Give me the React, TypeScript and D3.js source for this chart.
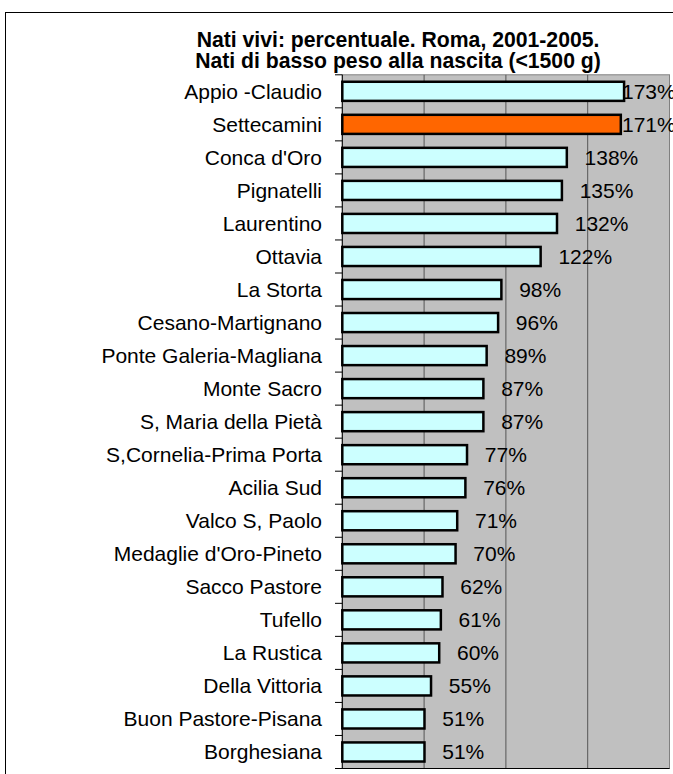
import React from "react";
import * as d3 from "d3";

const categories = [
  "Appio -Claudio",
  "Settecamini",
  "Conca d'Oro",
  "Pignatelli",
  "Laurentino",
  "Ottavia",
  "La Storta",
  "Cesano-Martignano",
  "Ponte Galeria-Magliana",
  "Monte Sacro",
  "S, Maria della Pietà",
  "S,Cornelia-Prima Porta",
  "Acilia Sud",
  "Valco S, Paolo",
  "Medaglie d'Oro-Pineto",
  "Sacco Pastore",
  "Tufello",
  "La Rustica",
  "Della Vittoria",
  "Buon Pastore-Pisana",
  "Borghesiana",
];

const values = [173, 171, 138, 135, 132, 122, 98, 96, 89, 87, 87, 77, 76, 71, 70, 62, 61, 60, 55, 51, 51];

const highlighted = ["Settecamini"];

const gridTicks = [50, 100, 150];

const titleLines = [
  "Nati vivi: percentuale. Roma, 2001-2005.",
  "Nati di basso peso alla nascita (<1500 g)",
];

const W = 673;
const H = 774;
const plotLeft = 342.3;
const plotRight = 669.5;
const plotTop = 74.8;
const plotBottom = 768.5;
const FONT = "Arial, 'Liberation Sans', sans-serif";

export default function App() {
  const x = d3.scaleLinear().domain([0, 200]).range([plotLeft, plotRight]);
  const y = d3
    .scaleBand<string>()
    .domain(categories)
    .range([plotTop, plotBottom])
    .paddingInner(0.346)
    .paddingOuter(0.173);
  const step = y.step();
  const bw = y.bandwidth();
  const sw = 2.5;

  return (
    <svg
      width={W}
      height={H}
      style={{ position: "absolute", left: 0, top: 0, background: "#fff" }}
    >
      <rect x={5.5} y={12.5} width={720} height={800} fill="#fff" stroke="#000" strokeWidth={1} />
      {titleLines.map((t, i) => (
        <text
          key={i}
          x={398}
          y={46.5 + i * 21.5}
          textAnchor="middle"
          fontFamily={FONT}
          fontWeight="bold"
          fontSize={21.2}
          fill="#000"
        >
          {t}
        </text>
      ))}
      <rect
        x={plotLeft}
        y={plotTop}
        width={plotRight - plotLeft}
        height={plotBottom - plotTop}
        fill="#c0c0c0"
        stroke="#808080"
        strokeWidth={1}
      />
      {gridTicks.map((t) => (
        <line key={t} x1={x(t)} x2={x(t)} y1={plotTop} y2={plotBottom} stroke="#555" strokeWidth={1} />
      ))}
      {/* category axis */}
      <line x1={plotLeft} x2={plotLeft} y1={plotTop} y2={plotBottom} stroke="#000" strokeWidth={1} />
      <line x1={335} x2={plotRight} y1={plotBottom} y2={plotBottom} stroke="#000" strokeWidth={1} />
      {d3.range(categories.length + 1).map((i) => (
        <line
          key={i}
          x1={335}
          x2={plotLeft}
          y1={plotTop + i * step}
          y2={plotTop + i * step}
          stroke="#000"
          strokeWidth={1}
        />
      ))}
      {categories.map((c, i) => {
        const v = values[i];
        const yc = (y(c) as number) + bw / 2;
        const xe = x(v);
        return (
          <g key={c}>
            <rect
              x={x(0)}
              y={(y(c) as number) + sw / 2}
              width={xe - x(0) - sw / 2}
              height={bw - sw}
              fill={highlighted.includes(c) ? "#ff6600" : "#ccffff"}
              stroke="#000"
              strokeWidth={sw}
            />
            <text
              x={322}
              y={yc + 7.3}
              textAnchor="end"
              fontFamily={FONT}
              fontSize={21}
              fill="#000"
            >
              {c}
            </text>
            <text
              x={Math.min(xe + 16.5, 622)}
              y={yc + 7.3}
              fontFamily={FONT}
              fontSize={21}
              fill="#000"
            >
              {v}%
            </text>
          </g>
        );
      })}
    </svg>
  );
}
